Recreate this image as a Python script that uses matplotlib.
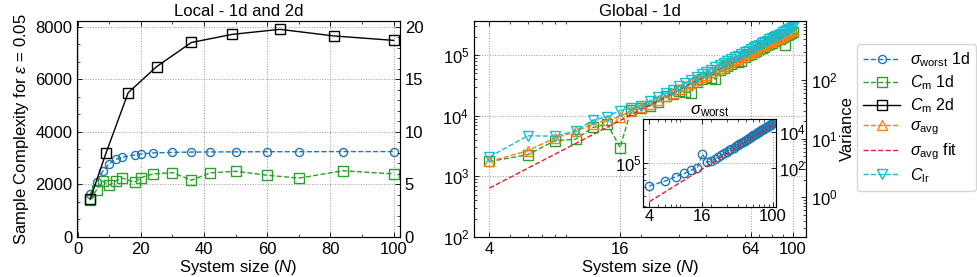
import matplotlib
matplotlib.use('Agg')
import matplotlib.pyplot as plt
from matplotlib.ticker import AutoMinorLocator, NullFormatter

plt.rcParams['font.family'] = ['Liberation Sans', 'DejaVu Sans']
plt.rcParams['mathtext.fontset'] = 'custom'
plt.rcParams['mathtext.rm'] = 'Liberation Sans'
plt.rcParams['mathtext.it'] = 'Liberation Sans:italic'
plt.rcParams['mathtext.bf'] = 'Liberation Sans:bold'
plt.rcParams['font.size'] = 12

# left panel: local, 1d and 2d
n_1d = [4, 6, 8, 10, 12, 14, 18, 20, 24, 30, 36, 42, 50, 60, 70, 84, 100]
worst_1d = [1630, 2110, 2510, 2790, 2950, 3030, 3120, 3160, 3200, 3220,
            3230, 3235, 3240, 3245, 3245, 3250, 3250]
cm_1d = [1400, 1800, 2130, 1970, 2130, 2250, 2080, 2260, 2400, 2450,
         2160, 2440, 2500, 2350, 2240, 2520, 2400]
n_2d = [4, 9, 16, 25, 36, 49, 64, 81, 100]
cm_2d = [1450, 3200, 5490, 6480, 7400, 7710, 7900, 7650, 7480]

# right panel: global, 1d
n_glob = list(range(4, 101, 2))
avg_glob = [1760, 2640, 4280, 5500, 7360, 8550, 9700, 12200, 13900,
            15800, 18100, 21300, 24100, 27800, 30900, 34900, 38400, 43000, 46800,
            51800, 55800, 61200, 65500, 71300, 76000, 82100, 87400, 93800, 99100,
            106000, 111800, 119000, 125100, 132700, 139000, 147100, 153800, 162000,
            169000, 178000, 185100, 194400, 201700, 211300, 219100, 229000, 237000,
            247500, 256000]
cm_glob = [1760, 2270, 3860, 4110, 6400, 7280, 2990, 12500, 13300,
           14600, 17000, 20800, 22500, 25500, 25000, 24000, 36000, 40500, 44000,
           42000, 40500, 57000, 62000, 66000, 72000, 76000, 78000, 80000, 94000,
           99000, 106000, 112000, 118000, 125000, 130000, 138000, 146000, 152000,
           160000, 168000, 175000, 183000, 191000, 198000, 149000, 216000, 225000,
           234000, 243000]
lr_glob = [2080, 4670, 4600, 5640, 8400, 9700, 12200, 13300, 14500,
           17500, 20300, 23800, 27000, 31100, 34600, 39100, 43000, 48100, 52400,
           57900, 62500, 68500, 73400, 80000, 85300, 92200, 97800, 105300, 111000,
           119100, 125200, 133700, 140100, 149100, 155800, 165300, 172200, 182200,
           189400, 200100, 207400, 218500, 226000, 237600, 245500, 257600, 265500,
           278500, 286000]
fit_n = [4, 100]
fit_glob = [640, 249000]

# inset: sigma_worst, global
worst_glob = [11, 20, 35, 53, 80, 110, 600,
              210, 250, 320, 410, 520, 650, 800, 970, 1160, 1370, 1610, 1880,
              2180, 2510, 2860, 3260, 3680, 4140, 4630, 5170, 5750, 6360, 7010,
              7710, 8470, 9250, 10090, 10990, 11930, 12920, 13960, 15070, 16230,
              17450, 18710, 20050, 21460, 22910, 24450, 26050, 27720, 29430]
inset_fit = [1.5, 23000]

C_BLUE = '#1f77b4'
C_GREEN = '#2ca02c'
C_ORANGE = '#ff7f0e'
C_RED = '#d62728'
C_CYAN = '#17becf'


def ticks(ax):
    ax.tick_params(which='both', direction='in', labelsize=12)
    ax.tick_params(which='major', length=3.5, width=0.6)
    ax.tick_params(which='minor', length=2, width=0.5)


def style(ax):
    ticks(ax)
    ax.tick_params(which='both', top=True, right=False)
    for s in ax.spines.values():
        s.set_linewidth(0.8)
        s.set_color('#333333')
    ax.grid(True, which='major', linestyle=':', color='#999999', linewidth=0.7)


def main(filename='out.png'):
    fig = plt.figure(figsize=(9.77, 2.77), dpi=100)
    ax1 = fig.add_axes([0.0788, 0.1444, 0.3306, 0.781])
    ax2 = fig.add_axes([0.4852, 0.1444, 0.3398, 0.781])

    dash = dict(linestyle='--', linewidth=1, markerfacecolor='none',
                markeredgewidth=1)

    # ---- left panel
    l_worst, = ax1.plot(n_1d, worst_1d, marker='o', ms=5.8, color=C_BLUE,
                        label=r'$\sigma_{\rm worst}$ 1d', **dash)
    l_cm1, = ax1.plot(n_1d, cm_1d, marker='s', ms=6.5, color=C_GREEN,
                      label=r'$C_{\rm m}$ 1d', **dash)
    l_cm2, = ax1.plot(n_2d, cm_2d, marker='s', ms=7, color='black',
                      linestyle='-', linewidth=1, markerfacecolor='none',
                      markeredgewidth=1, label=r'$C_{\rm m}$ 2d')
    ax1.set_xlim(-0.2, 102)
    ax1.set_ylim(0, 8230)
    ax1.set_xticks([0, 20, 40, 60, 80, 100])
    ax1.set_yticks([0, 2000, 4000, 6000, 8000])
    ax1.xaxis.set_minor_locator(AutoMinorLocator(2))
    ax1.yaxis.set_minor_locator(AutoMinorLocator(3))
    style(ax1)
    ax1.set_xlabel(r'System size ($N$)', labelpad=1)
    ax1.set_ylabel(r'Sample Complexity for $\varepsilon$ = 0.05', labelpad=3)
    ax1.set_title('Local - 1d and 2d', fontsize=12, pad=3)

    ax1r = ax1.twinx()
    ax1r.set_ylim(0, 20.57)
    ax1r.set_yticks([0, 5, 10, 15, 20])
    ax1r.yaxis.set_minor_locator(AutoMinorLocator(5))
    ticks(ax1r)

    # ---- right panel
    ax2.set_xscale('log')
    ax2.set_yscale('log')
    ax2.plot(n_glob, cm_glob, marker='s', ms=7, color=C_GREEN, **dash)
    l_avg, = ax2.plot(n_glob, avg_glob, marker='^', ms=6.5, color=C_ORANGE,
                      label=r'$\sigma_{\rm avg}$', **dash)
    l_fit, = ax2.plot(fit_n, fit_glob, color=C_RED, linestyle='--',
                      linewidth=1, label=r'$\sigma_{\rm avg}$ fit')
    l_lr, = ax2.plot(n_glob, lr_glob, marker='v', ms=7, color=C_CYAN,
                     label=r'$C_{\rm lr}$', **dash)
    ax2.set_xlim(3.4, 115)
    ax2.set_ylim(100, 3.7e5)
    ax2.set_xticks([4, 16, 64, 100])
    ax2.set_xticklabels(['4', '16', '64', '100'])
    ax2.xaxis.set_minor_formatter(NullFormatter())
    style(ax2)
    ax2.set_xlabel(r'System size ($N$)', labelpad=1)
    ax2.set_title('Global - 1d', fontsize=12, pad=3)

    ax2r = ax2.twinx()
    ax2r.set_yscale('log')
    ax2r.set_ylim(0.21, 1030)
    ax2r.set_yticks([1, 10, 100])
    ticks(ax2r)
    ax2r.set_ylabel('Variance', labelpad=2)

    # ---- inset
    axin = fig.add_axes([0.6585, 0.2538, 0.1358, 0.3155])
    axin.set_facecolor('white')
    axin.set_xscale('log')
    axin.set_yscale('log')
    axin.set_xlim(3.42, 109)
    axin.set_ylim(10 ** 4.6, 10 ** 5.4)
    axin.set_xticks([4, 16, 100])
    axin.set_xticklabels(['4', '16', '100'])
    axin.set_yticks([1e5])
    axin.xaxis.set_minor_formatter(NullFormatter())
    axin.yaxis.set_minor_formatter(NullFormatter())
    style(axin)
    axin.tick_params(axis='x', pad=2)
    axin.tick_params(axis='y', pad=1)
    axin.set_title(r'$\sigma_{\rm worst}$', fontsize=12, pad=2)

    axin2 = axin.twinx()
    axin2.set_yscale('log')
    axin2.plot(n_glob, worst_glob, marker='o', ms=6, color=C_BLUE, **dash)
    axin2.plot(fit_n, inset_fit, color=C_RED, linestyle='--', linewidth=1)
    axin2.set_ylim(0.8, 4.8e4)
    axin2.set_yticks([1e2, 1e4])
    axin2.yaxis.set_minor_formatter(NullFormatter())
    ticks(axin2)
    axin2.tick_params(axis='y', pad=2)

    fig.legend(handles=[l_worst, l_cm1, l_cm2, l_avg, l_fit, l_lr],
               loc='upper left', bbox_to_anchor=(0.877, 0.84),
               fontsize=11.5, handlelength=2.3, labelspacing=0.25,
               borderpad=0.4, handletextpad=0.6, borderaxespad=0,
               frameon=True, edgecolor='#cccccc', fancybox=True)

    fig.savefig(filename, dpi=100)


if __name__ == "__main__":
    main()
